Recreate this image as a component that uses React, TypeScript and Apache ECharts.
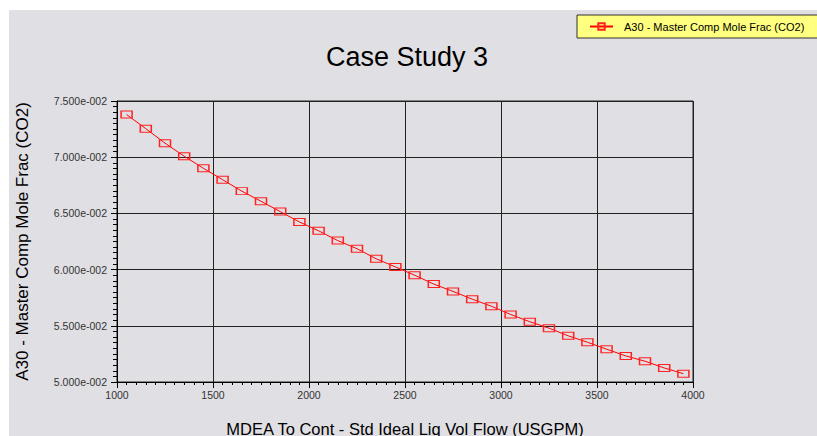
import React, { useEffect, useRef } from "react";
import * as echarts from "echarts";

const title = "Case Study 3";
const seriesName = "A30 - Master Comp Mole Frac (CO2)";
const xAxisTitle = "MDEA To Cont - Std Ideal Liq Vol Flow (USGPM)";
const yAxisTitle = "A30 - Master Comp Mole Frac (CO2)";

const flowValues = [
  1050, 1150, 1250, 1350, 1450, 1550, 1650, 1750, 1850, 1950,
  2050, 2150, 2250, 2350, 2450, 2550, 2650, 2750, 2850, 2950,
  3050, 3150, 3250, 3350, 3450, 3550, 3650, 3750, 3850, 3950,
];
const co2Values = [
  0.07379, 0.07254, 0.07125, 0.07009, 0.06901, 0.068, 0.06698, 0.06608, 0.06516, 0.06424,
  0.06345, 0.06258, 0.06186, 0.06096, 0.06024, 0.0595, 0.05871, 0.05806, 0.05737, 0.05674,
  0.05601, 0.05536, 0.05479, 0.05411, 0.05354, 0.05292, 0.05232, 0.05185, 0.05125, 0.05074,
];

const xMin = 1000;
const xMax = 4000;
const xInterval = 500;
const yMin = 0.05;
const yMax = 0.075;
const yInterval = 0.005;

const FONT = "'Liberation Sans', Arial, Helvetica, sans-serif";

function sciLabel(v: number): string {
  const [m, e] = v.toExponential(3).split("e");
  const n = parseInt(e, 10);
  const sign = n < 0 ? "-" : "+";
  return m + "e" + sign + String(Math.abs(n)).padStart(3, "0");
}

export default function App() {
  const ref = useRef<HTMLDivElement>(null);

  useEffect(() => {
    if (!ref.current) return;
    const chart = echarts.init(ref.current, undefined, { renderer: "svg" });
    const data = flowValues.map((x, i) => [x, co2Values[i]]);
    chart.setOption({
      animation: false,
      backgroundColor: "#e0dfe3",
      textStyle: { fontFamily: FONT },
      title: {
        text: title,
        left: 393,
        textAlign: "center",
        top: 28,
        textStyle: { fontSize: 27, fontWeight: "normal", color: "#000", fontFamily: FONT },
      },
      legend: {
        left: 568,
        top: 5,
        padding: [6, 16, 6, 12],
        backgroundColor: "#ffff80",
        borderColor: "#333",
        borderWidth: 1,
        itemWidth: 23,
        itemHeight: 8,
        textStyle: { fontSize: 11, color: "#000", fontFamily: FONT, padding: [0, 0, 0, 6] },
        data: [seriesName],
      },
      grid: {
        left: 108,
        top: 91,
        right: 124,
        bottom: 54,
        outerBoundsMode: "none",
        containLabel: false,
        show: true,
        borderColor: "#222",
        borderWidth: 1,
        backgroundColor: "transparent",
      },
      xAxis: {
        type: "value",
        min: xMin,
        max: xMax,
        interval: xInterval,
        name: xAxisTitle,
        nameLocation: "middle",
        nameGap: 38,
        nameTextStyle: { fontSize: 16.5, color: "#000", fontFamily: FONT },
        axisLine: { show: true, lineStyle: { color: "#000", width: 1 } },
        axisTick: { show: true, length: 6, lineStyle: { color: "#000" } },
        minorTick: { show: true, splitNumber: 10, length: 3, lineStyle: { color: "#000" } },
        axisLabel: {
          fontSize: 10.5,
          color: "#333",
          margin: 7,
          fontFamily: FONT,
          formatter: (v: number) => String(v),
        },
        splitLine: { show: true, lineStyle: { color: "#222", width: 1 } },
      },
      yAxis: {
        type: "value",
        min: yMin,
        max: yMax,
        interval: yInterval,
        name: yAxisTitle,
        nameLocation: "middle",
        nameGap: 86,
        nameTextStyle: { fontSize: 17, color: "#000", fontFamily: FONT },
        axisLine: { show: true, lineStyle: { color: "#000", width: 1 } },
        axisTick: { show: true, length: 6, lineStyle: { color: "#000" } },
        minorTick: { show: true, splitNumber: 10, length: 4, lineStyle: { color: "#000" } },
        axisLabel: { fontSize: 10.5, color: "#333", margin: 10, fontFamily: FONT, formatter: sciLabel },
        splitLine: { show: true, lineStyle: { color: "#222", width: 1 } },
      },
      series: [
        {
          name: seriesName,
          type: "line",
          data,
          symbol: "rect",
          symbolSize: [11, 7],
          showSymbol: true,
          lineStyle: { color: "#ff0000", width: 1 },
          itemStyle: { color: "rgba(0,0,0,0)", borderColor: "#ff2020", borderWidth: 1.2 },
        },
      ],
    });
    return () => chart.dispose();
  }, []);

  return (
    <div
      ref={ref}
      style={{ position: "absolute", left: 9, top: 10, width: 808, height: 426 }}
    />
  );
}
